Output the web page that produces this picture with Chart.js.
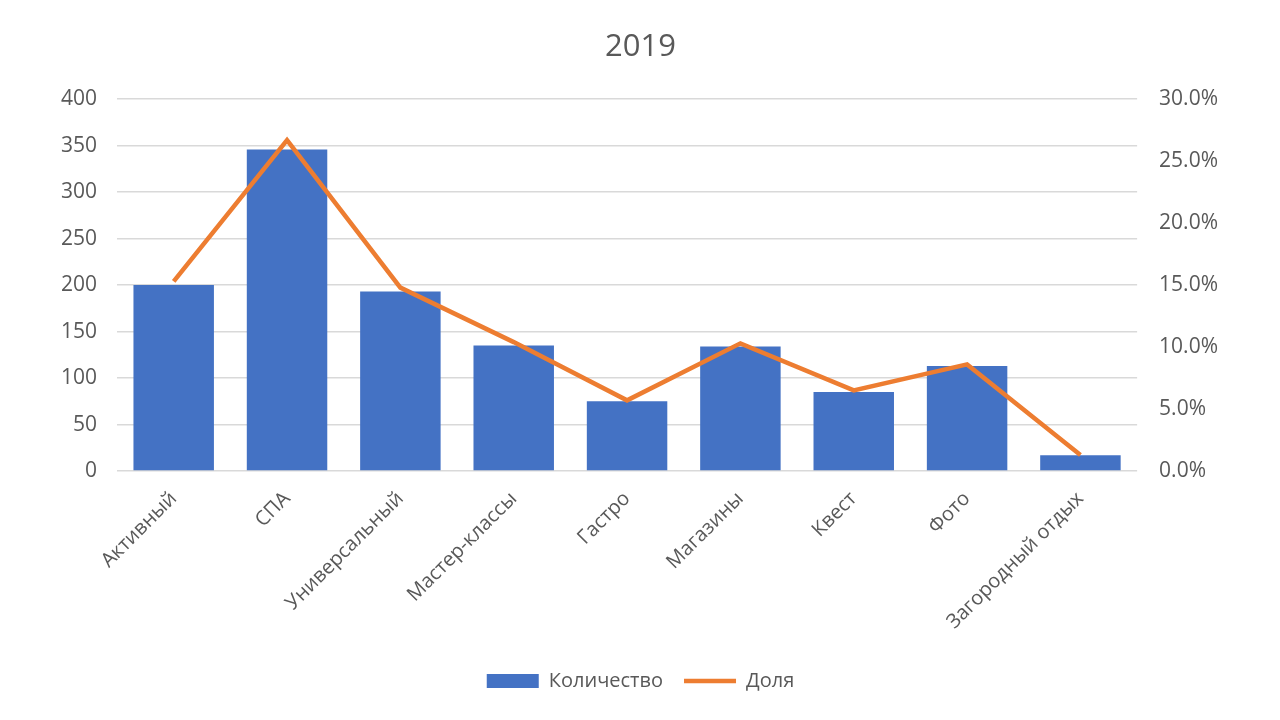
<!DOCTYPE html>
<html>
<head>
<meta charset="utf-8">
<script src="https://cdn.jsdelivr.net/npm/chart.js@4"></script>
<style>
html,body{margin:0;padding:0;background:#fff;}
#wrap{width:1280px;height:720px;position:relative;}
</style>
</head>
<body>
<div id="wrap"><canvas id="c" width="1280" height="720"></canvas></div>
<script>
const titleText = "2019";
const categories = ["Активный","СПА","Универсальный","Мастер-классы","Гастро","Магазины","Квест","Фото","Загородный отдых"];
const countLabel = "Количество";
const countValues = [200, 346, 193, 135, 75, 134, 85, 113, 17];
const shareLabel = "Доля";
const shareValues = [0.153, 0.267, 0.148, 0.104, 0.057, 0.103, 0.065, 0.086, 0.013];

const textColor = "#595959";
const gridColor = "#D9D9D9";
const fontFamily = "'Open Sans', 'Noto Sans', sans-serif";

new Chart(document.getElementById('c'), {
  data: {
    labels: categories,
    datasets: [
      {
        type: 'bar',
        label: countLabel,
        data: countValues,
        backgroundColor: '#4472C4',
        borderWidth: 0,
        barPercentage: 0.71,
        categoryPercentage: 1.0,
        yAxisID: 'y',
        order: 2,
        pointStyle: 'rect'
      },
      {
        type: 'line',
        label: shareLabel,
        data: shareValues,
        borderColor: '#ED7D31',
        backgroundColor: '#ED7D31',
        borderWidth: 4.5,
        tension: 0,
        pointRadius: 0,
        pointHoverRadius: 0,
        yAxisID: 'y1',
        order: 1,
        pointStyle: 'line'
      }
    ]
  },
  options: {
    responsive: false,
    animation: false,
    devicePixelRatio: 1,
    layout: { padding: { left: 41, right: 40, top: 19, bottom: 19 } },
    plugins: {
      title: {
        display: true,
        text: titleText,
        color: textColor,
        font: { family: fontFamily, size: 31, weight: 'normal' },
        padding: { top: 10, bottom: 33 }
      },
      legend: {
        display: true,
        position: 'bottom',
        labels: {
          color: textColor,
          font: { family: fontFamily, size: 20 },
          usePointStyle: true,
          pointStyleWidth: 52,
          boxHeight: 14,
          padding: 21,
          sort: (a, b) => a.datasetIndex - b.datasetIndex
        }
      },
      tooltip: { enabled: false }
    },
    scales: {
      x: {
        grid: { display: false, drawTicks: false },
        border: { display: false },
        ticks: {
          color: textColor,
          font: { family: fontFamily, size: 20 },
          maxRotation: 45,
          minRotation: 45,
          padding: 16,
          autoSkip: false
        }
      },
      y: {
        position: 'left',
        min: 0,
        max: 400,
        grid: { color: gridColor, lineWidth: 1.5, drawTicks: false },
        border: { display: false },
        ticks: {
          stepSize: 50,
          color: textColor,
          font: { family: fontFamily, size: 21 },
          padding: 20
        }
      },
      y1: {
        position: 'right',
        min: 0,
        max: 0.30,
        grid: { display: false, drawTicks: false },
        border: { display: false },
        ticks: {
          stepSize: 0.05,
          color: textColor,
          font: { family: fontFamily, size: 21 },
          padding: 22,
          callback: v => (v * 100).toFixed(1) + '%'
        }
      }
    }
  }
});
</script>
</body>
</html>
